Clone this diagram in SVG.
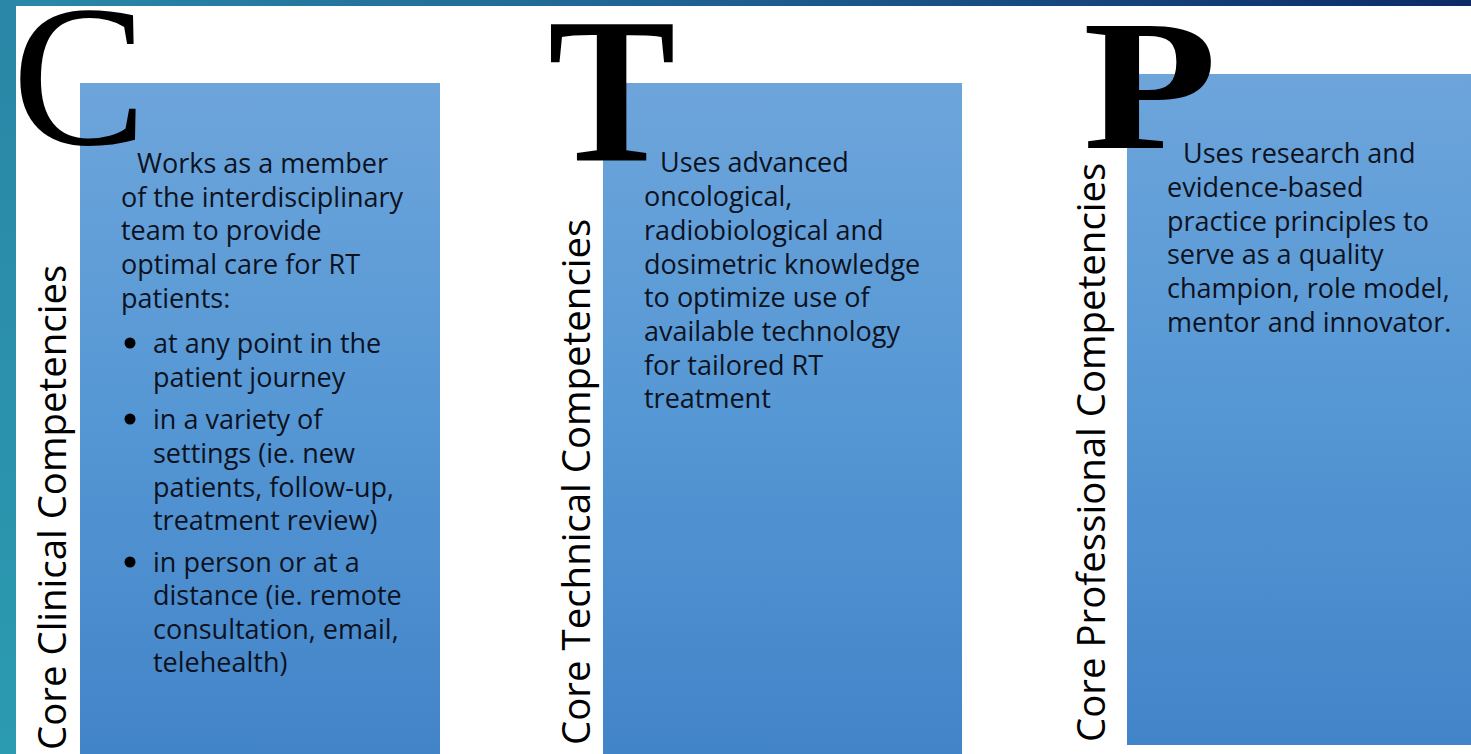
<svg xmlns="http://www.w3.org/2000/svg" width="1471" height="754" viewBox="0 0 1471 754">
<defs>
<linearGradient id="topbar" x1="0" y1="0" x2="1" y2="0">
<stop offset="0" stop-color="#2a8aa9"/>
<stop offset="0.5" stop-color="#1d5f90"/>
<stop offset="1" stop-color="#0c2a66"/>
</linearGradient>
<linearGradient id="leftbar" x1="0" y1="0" x2="0" y2="1">
<stop offset="0" stop-color="#2a86a6"/>
<stop offset="1" stop-color="#2b9bb1"/>
</linearGradient>
<linearGradient id="boxg" x1="0" y1="0" x2="0" y2="1">
<stop offset="0" stop-color="#6da5db"/>
<stop offset="0.5" stop-color="#5597d4"/>
<stop offset="1" stop-color="#4284c8"/>
</linearGradient>
<style>
.box{fill:url(#boxg);}
.body{font-family:"Open Sans","Noto Sans",sans-serif;font-size:27px;fill:#0d1221;}
.side{font-family:"Open Sans","Noto Sans",sans-serif;font-size:38.4px;fill:#000;}
.big{font-family:"Liberation Serif","Times New Roman",serif;fill:#000;}
.dot{fill:#000;}
</style>
</defs>
<rect x="0" y="0" width="1471" height="754" fill="#ffffff"/>
<rect x="0" y="0" width="1471" height="6" fill="url(#topbar)"/>
<rect x="0" y="0" width="16" height="754" fill="url(#leftbar)"/>

<g id="clinical">
<rect class="box" x="80" y="83" width="360" height="671"/>
<text class="side" transform="translate(66,750) rotate(-90)">Core Clinical Competencies</text>
<text class="body" x="137" y="173">Works as a member</text>
<text class="body" x="121" y="207">of the interdisciplinary</text>
<text class="body" x="121" y="240">team to provide</text>
<text class="body" x="121" y="274">optimal care for RT</text>
<text class="body" x="121" y="308">patients:</text>
<circle class="dot" cx="130" cy="343" r="5.5"/>
<text class="body" x="153" y="353">at any point in the</text>
<text class="body" x="153" y="387">patient journey</text>
<circle class="dot" cx="130" cy="419" r="5.5"/>
<text class="body" x="153" y="429">in a variety of</text>
<text class="body" x="153" y="463">settings (ie. new</text>
<text class="body" x="153" y="497">patients, follow-up,</text>
<text class="body" x="153" y="530">treatment review)</text>
<circle class="dot" cx="130" cy="562" r="5.5"/>
<text class="body" x="153" y="572">in person or at a</text>
<text class="body" x="153" y="605">distance (ie. remote</text>
<text class="body" x="153" y="639">consultation, email,</text>
<text class="body" x="153" y="672">telehealth)</text>
<text class="big" x="12" y="144" font-size="202">C</text>
</g>

<g id="technical">
<rect class="box" x="603" y="83" width="359" height="671"/>
<text class="side" transform="translate(590,745) rotate(-90)">Core Technical Competencies</text>
<text class="body" x="660" y="172">Uses advanced</text>
<text class="body" x="644" y="206">oncological,</text>
<text class="body" x="644" y="240">radiobiological and</text>
<text class="body" x="644" y="274">dosimetric knowledge</text>
<text class="body" x="644" y="307">to optimize use of</text>
<text class="body" x="644" y="341">available technology</text>
<text class="body" x="644" y="375">for tailored RT</text>
<text class="body" x="644" y="408">treatment</text>
<text class="big" transform="translate(548,160) scale(0.92,1)" font-size="208" font-weight="bold">T</text>
</g>

<g id="professional">
<rect class="box" x="1127" y="74" width="344" height="671"/>
<text class="side" transform="translate(1105,742) rotate(-90)">Core Professional Competencies</text>
<text class="body" x="1183" y="163">Uses research and</text>
<text class="body" x="1167" y="197">evidence-based</text>
<text class="body" x="1167" y="231">practice principles to</text>
<text class="body" x="1167" y="264">serve as a quality</text>
<text class="body" x="1167" y="298">champion, role model,</text>
<text class="body" x="1167" y="332">mentor and innovator.</text>
<text class="big" transform="translate(1083,148) scale(1.18,1)" font-size="186" font-weight="bold">P</text>
</g>
</svg>
